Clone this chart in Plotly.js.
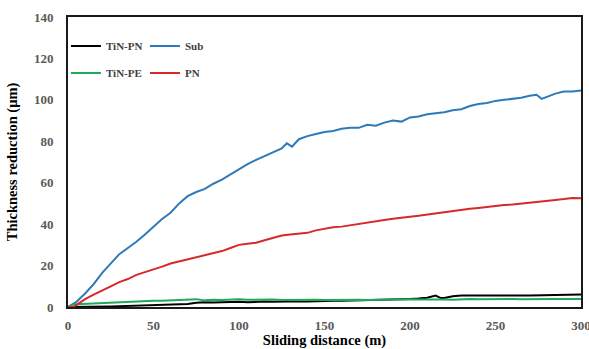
<!DOCTYPE html>
<html>
<head>
<meta charset="utf-8">
<script src="https://cdn.plot.ly/plotly-3.0.1.min.js"></script>
<style>html,body{margin:0;padding:0;background:#fff;}#chart{width:589px;height:349px;}</style>
</head>
<body>
<div id="chart"></div>
<script>
// Sliding distance (m)
const xSub = [0,5,10,15,20,25,30,35,40,45,50,55,60,65,70,75,80,85,90,95,100,105,110,115,120,125,128,131,135,140,145,150,155,160,165,170,175,180,185,190,195,200,205,210,215,220,225,230,235,240,245,250,255,260,265,270,274,277,280,285,290,295,300];
const sub  = [0,2.5,6.5,11,16.5,21,25.5,28.5,31.5,35,39,42.5,45.5,50,53.5,55.5,57,59.5,61.5,64,66.5,69,71,73,75,76.6,79,77.4,81,82.5,83.5,84.5,85,86,86.5,86.5,88,87.5,89,90,89.5,91.5,92,93,93.5,94,95,95.5,97,98,98.5,99.5,100,100.5,101,102,102.5,100.5,101.5,103,104,104,104.5];

const xPN = [0,3,5,10,15,20,25,30,35,40,45,50,55,60,65,70,75,80,85,90,95,100,105,110,115,120,125,130,135,140,145,150,155,160,165,170,175,180,185,190,195,200,205,210,215,220,225,230,235,240,245,250,255,260,265,270,275,280,285,290,295,300];
const pn  = [0,0,1,3.8,6,8.2,10,12,13.5,15.5,16.8,18,19.5,21,22,22.7,23.8,25,25.8,27,28.5,30,30.5,31,32.2,33.3,34.5,35,35.5,35.8,37,37.8,38.5,38.8,39.5,40.2,40.8,41.3,42,42.6,43.2,43.6,44,44.6,45,45.6,46.3,46.9,47.4,47.8,48.3,48.9,49.2,49.5,50,50.5,50.9,51.4,51.7,52.1,52.6,52.5];

const xPE = [0,3,5,10,15,20,25,30,35,40,45,50,55,60,65,70,75,80,85,90,95,100,105,110,115,120,125,130,135,140,145,150,155,160,165,170,175,180,185,190,195,200,205,210,215,220,225,230,235,240,245,250,255,260,265,270,275,280,285,290,295,300];
const tinPE = [0,1.2,1.3,1.5,1.8,2,2,2.2,2.3,2.6,2.8,3,3,3.2,3.3,3.4,3.8,3.2,3.5,3.4,3.6,3.8,3.5,3.6,3.5,3.6,3.4,3.5,3.6,3.4,3.5,3.4,3.5,3.3,3.4,3.5,3.4,3.5,3.6,3.5,3.6,3.7,3.6,3.7,3.5,3.6,3.5,3.8,3.9,3.7,3.8,3.9,3.8,3.9,3.8,3.9,3.9,3.8,3.9,3.9,3.8,3.9];

const xTPN = [0,5,10,15,20,25,30,35,40,45,50,55,60,65,70,75,80,85,90,95,100,105,110,115,120,125,130,135,140,145,150,155,160,165,170,175,180,185,190,195,200,205,210,215,218,220,225,230,235,240,245,250,255,260,265,270,275,280,285,290,295,300];
const tinPN = [0,0,0,0.1,0.2,0.3,0.4,0.5,0.6,0.8,1,1,1.2,1.3,1.5,2,2.3,2.2,2.4,2.3,2.5,2.3,2.5,2.6,2.5,2.7,2.6,2.8,2.7,2.9,2.8,3,3,3.1,3,3.2,3.3,3.4,3.6,3.7,3.9,4.1,4.5,5.5,4.3,4.4,5.2,5.5,5.6,5.5,5.6,5.5,5.6,5.5,5.6,5.5,5.6,5.6,5.6,5.6,5.7,6];

const xTicks = [0,50,100,150,200,250,300];
const yTicks = [0,20,40,60,80,100,120,140];

const SERIF = '"Liberation Serif", "Times New Roman", serif';

const traces = [
  {x:xTPN, y:tinPN, name:'TiN-PN', mode:'lines', line:{color:'#000000', width:2}, legend:'legend'},
  {x:xSub, y:sub, name:'Sub', mode:'lines', line:{color:'#2e7ab8', width:2}, legend:'legend'},
  {x:xPE, y:tinPE, name:'TiN-PE', mode:'lines', line:{color:'#1faa5a', width:2}, legend:'legend2'},
  {x:xPN, y:pn, name:'PN', mode:'lines', line:{color:'#d62a2a', width:2}, legend:'legend2'}
];

const legendBase = {
  orientation:'h', xanchor:'left', yanchor:'middle', x:-0.004,
  bgcolor:'rgba(0,0,0,0)', borderwidth:0,
  font:{family:SERIF, size:11, color:'#404040', weight:'bold'},
  entrywidth:34, entrywidthmode:'pixels', itemwidth:30, traceorder:'normal', tracegroupgap:0
};

const layout = {
  width:589, height:349,
  margin:{l:68, r:8, t:17, b:42},
  paper_bgcolor:'#ffffff', plot_bgcolor:'#ffffff',
  showlegend:true,
  legend:Object.assign({}, legendBase, {y:0.9}),
  legend2:Object.assign({}, legendBase, {y:0.807}),
  xaxis:{
    range:[0,300], tickvals:xTicks, ticks:'', showgrid:false, zeroline:false,
    showline:true, mirror:true, linecolor:'#1a1a1a', linewidth:2,
    tickfont:{family:SERIF, size:13, color:'#595959', weight:'bold'},
    ticklabelstandoff:5, ticklabeloverflow:'allow',
    title:{text:'Sliding distance (m)', font:{family:SERIF, size:14.5, color:'#000', weight:'bold'}, standoff:12}
  },
  yaxis:{
    range:[0,140], tickvals:yTicks, ticks:'', showgrid:false, zeroline:false,
    showline:true, mirror:true, linecolor:'#1a1a1a', linewidth:2,
    tickfont:{family:SERIF, size:13, color:'#595959', weight:'bold'},
    ticklabelstandoff:10,
    title:{text:'Thickness reduction (μm)', font:{family:SERIF, size:14.5, color:'#000', weight:'bold'}, standoff:13}
  }
};

Plotly.newPlot('chart', traces, layout, {displayModeBar:false, staticPlot:true});
</script>
</body>
</html>
